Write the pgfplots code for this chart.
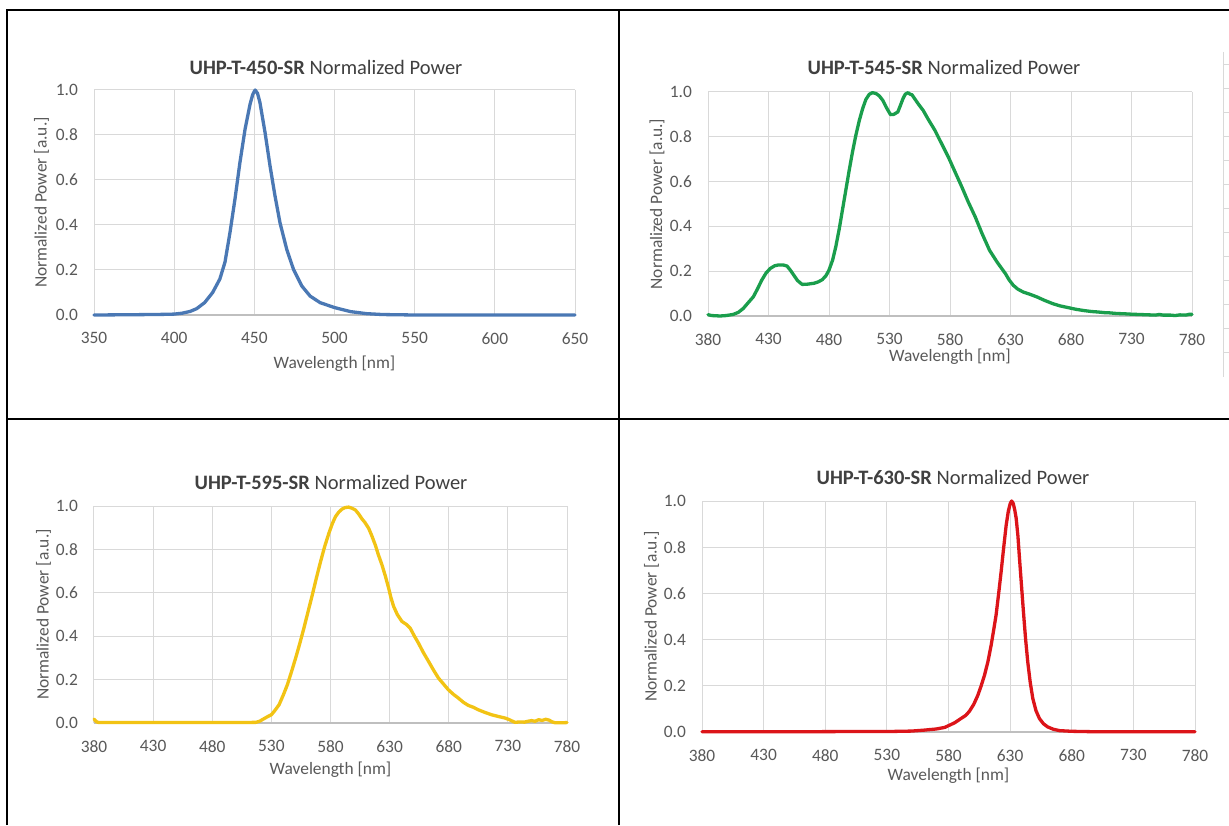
\documentclass[border=0pt]{standalone}
\usepackage{pgfplots}
\pgfplotsset{compat=1.18}
\usepackage{fontspec}
\setmainfont{Carlito}
\definecolor{tickgray}{HTML}{595959}
\definecolor{titlegray}{HTML}{404040}
\definecolor{gridgray}{HTML}{D9D9D9}
\definecolor{axisgray}{HTML}{BFBFBF}
\definecolor{cblue}{HTML}{4A78B4}
\definecolor{cgreen}{HTML}{1A9E4C}
\definecolor{cyellow}{HTML}{F2C314}
\definecolor{cred}{HTML}{DC1419}

\pgfplotstableread{
x y
350 0
370 0.001
385 0.002
395 0.003
400 0.004
405 0.008
410 0.016
414 0.028
419 0.055
424 0.10
428.5 0.16
431.7 0.235
434.8 0.366
437.9 0.514
441 0.677
444.2 0.825
447.3 0.936
449 0.98
450.5 1.0
452 0.985
453.5 0.944
456.7 0.81
459.8 0.662
462.9 0.529
466 0.41
470.2 0.292
474.4 0.203
479.6 0.129
484.8 0.084
491 0.055
500 0.033
510 0.015
520 0.006
530 0.002
540 0.001
550 0
650 0
}\bluedata

\pgfplotstableread{
x y
380 0.006
383 0.002
390 0.0
395 0.002
400.8 0.007
405 0.016
409.2 0.034
413 0.058
417.5 0.086
421 0.122
424.4 0.16
428 0.192
431.4 0.212
435 0.224
438.3 0.228
442 0.228
445.3 0.223
448 0.205
450.8 0.183
454 0.158
457.8 0.141
462 0.142
467.5 0.146
471 0.152
474.4 0.162
477.5 0.18
480 0.205
483 0.25
485.6 0.309
488.5 0.39
491.1 0.473
494 0.565
496.7 0.651
499.5 0.735
502.2 0.807
505 0.872
507.8 0.926
510.5 0.967
513.3 0.99
516 0.997
518.9 0.993
521.5 0.983
524.4 0.963
527.5 0.93
530.8 0.899
533.5 0.9
536.9 0.911
539 0.94
541.1 0.97
543 0.99
545.3 0.997
547 0.99
548.5 0.988
550.8 0.97
554 0.945
557.8 0.918
562 0.878
567.5 0.829
573 0.77
578.6 0.71
584 0.645
589.7 0.577
595 0.51
600.8 0.443
606.4 0.369
612.7 0.293
619 0.24
625.8 0.189
629 0.16
632.3 0.137
636 0.12
640.5 0.107
646 0.097
651.9 0.085
658 0.07
665 0.055
671 0.045
678 0.037
684 0.03
691 0.024
697 0.02
702 0.018
707.5 0.015
712 0.014
718 0.011
723.8 0.010
730 0.008
735 0.007
740 0.006
745 0.005
750 0.004
753 0.007
756 0.004
762 0.004
766 0.002
770 0.005
775 0.004
778 0.008
780 0.007
}\greendata

\pgfplotstableread{
x y
380 0.018
382 0.006
384 0.002
390 0.002
500 0.002
516.8 0.003
520 0.008
523.8 0.02
527 0.03
530 0.038
533 0.058
536.5 0.084
540 0.128
543.5 0.176
547 0.236
550.5 0.299
554 0.366
557.5 0.437
561 0.513
564.6 0.59
568 0.667
571.6 0.744
575 0.812
578.6 0.874
581.5 0.918
584.2 0.951
587 0.972
589.8 0.986
592.5 0.993
595.4 0.995
598 0.99
601 0.982
604 0.962
606.7 0.94
609 0.925
612.3 0.897
615 0.862
617.9 0.82
620.5 0.775
623.5 0.729
626.5 0.675
629.2 0.621
631 0.58
633.4 0.537
636.5 0.5
640.4 0.468
644 0.455
647.4 0.437
651 0.4
654.4 0.368
658.5 0.325
662.9 0.284
667 0.245
671.3 0.207
675.5 0.18
679.7 0.153
684 0.132
688.1 0.115
692.5 0.095
696.6 0.081
701 0.072
705 0.061
710 0.05
716.2 0.038
722 0.03
727.5 0.023
731 0.016
734 0.008
736 0.003
740 0.005
744 0.004
747 0.008
750 0.011
753 0.008
756 0.015
759 0.012
762 0.017
765 0.013
767 0.006
770 0.001
775 0.001
780 0.002
}\yellowdata

\pgfplotstableread{
x y
380 0.001
450 0.001
500 0.002
530 0.002
550 0.004
560 0.008
570 0.013
577 0.02
581 0.03
585 0.04
590 0.058
594 0.072
597 0.09
600.5 0.12
603.8 0.159
606.5 0.2
609.2 0.246
612 0.305
614.6 0.376
616.6 0.44
618.6 0.506
620.7 0.6
622.7 0.694
624.8 0.8
626.8 0.896
628.5 0.955
630 0.988
631.2 1.0
632.5 0.99
633.8 0.96
634.9 0.925
636.3 0.85
637.6 0.751
639.2 0.635
640.8 0.52
642.5 0.405
644.3 0.303
646.3 0.215
648.4 0.145
651 0.092
653.8 0.058
657 0.036
660.5 0.022
665 0.012
670 0.006
680 0.003
700 0.001
780 0.001
}\reddata

\pgfplotsset{
  spec/.style={
    scale only axis,
    anchor=south west,
    clip=false,
    ymin=0, ymax=1,
    ytick={0,0.2,...,1},
    axis line style={draw=none},
    major tick length=0pt,
    grid=major,
    major grid style={gridgray, line width=0.5pt},
    /pgf/number format/assume math mode=true,
    tick label style={font=\fontsize{8.7}{10}\selectfont, text=tickgray},
    yticklabel style={/pgf/number format/fixed, /pgf/number format/fixed zerofill, /pgf/number format/precision=1},
    xticklabel style={/pgf/number format/fixed, /pgf/number format/1000 sep={}},
    xticklabel shift=5.3pt,
    yticklabel shift=4.5pt,
    label style={font=\fontsize{8.7}{10}\selectfont, text=tickgray},
    title style={font=\fontsize{10.25}{12}\selectfont, text=titlegray, anchor=center},
    xlabel={Wavelength [nm]},
    ylabel={Normalized Power [a.u.]},
  },
  curve/.style={line width=1.65pt, line join=round, line cap=round},
}

\begin{document}
\begin{tikzpicture}
\path[use as bounding box] (0,0) rectangle (614.5pt,412.5pt);
\fill[white] (0,0) rectangle (614.5pt,412.5pt);

% faint remnant axis at right of top-right panel
\draw[gridgray, line width=0.5pt] (611.5pt,386.5pt) -- (611.5pt,224pt);
\foreach \yy in {380,368,356,344,332,320,308,296,284,272,260,248,236} {
  \draw[gridgray, line width=0.5pt] (611.5pt,\yy pt) -- (614.5pt,\yy pt);
}

% ---------- top-left ----------
\begin{axis}[spec,
  at={(47pt,255pt)}, width=240.5pt, height=112.5pt,
  xmin=350, xmax=650, xtick={350,400,...,650},
  title={\textbf{UHP-T-450-SR} Normalized Power},
  title style={at={(axis description cs:0.5,1)}, xshift=-4.25pt, yshift=5.5pt},
  xlabel style={at={(axis description cs:0.5,0)}, anchor=center, yshift=-24.5pt},
  ylabel style={at={([xshift=-26.25pt]axis description cs:0,0.5)}, anchor=center},
]
\draw[axisgray, line width=0.75pt] (rel axis cs:0,0) -- (rel axis cs:1,0);
\addplot[curve, cblue] table[x=x,y=y] {\bluedata};
\end{axis}

% ---------- top-right ----------
\begin{axis}[spec,
  at={(354pt,254.5pt)}, width=242pt, height=112pt,
  xmin=380, xmax=780, xtick={380,430,...,780},
  title={\textbf{UHP-T-545-SR} Normalized Power},
  title style={at={(axis description cs:0.5,1)}, xshift=-3pt, yshift=6.5pt},
  xlabel style={at={(axis description cs:0.5,0)}, anchor=center, yshift=-20.5pt},
  ylabel style={at={([xshift=-25.5pt]axis description cs:0,0.5)}, anchor=center},
]
\draw[axisgray, line width=0.75pt] (rel axis cs:0,0) -- (rel axis cs:1,0);
\addplot[curve, cgreen] table[x=x,y=y] {\greendata};
\end{axis}

% ---------- bottom-left ----------
\begin{axis}[spec,
  at={(47pt,51pt)}, width=236.5pt, height=108.5pt,
  xmin=380, xmax=780, xtick={380,430,...,780},
  title={\textbf{UHP-T-595-SR} Normalized Power},
  title style={at={(axis description cs:0.5,1)}, xshift=0.25pt, yshift=6pt},
  xlabel style={at={(axis description cs:0.5,0)}, anchor=center, yshift=-23.5pt},
  ylabel style={at={([xshift=-25.25pt]axis description cs:0,0.5)}, anchor=center},
]
\draw[axisgray, line width=0.75pt] (rel axis cs:0,0) -- (rel axis cs:1,0);
\addplot[curve, cyellow] table[x=x,y=y] {\yellowdata};
\end{axis}

% ---------- bottom-right ----------
\begin{axis}[spec,
  at={(351pt,46.5pt)}, width=246.5pt, height=115.5pt,
  xmin=380, xmax=780, xtick={380,430,...,780},
  title={\textbf{UHP-T-630-SR} Normalized Power},
  title style={at={(axis description cs:0.5,1)}, xshift=2.25pt, yshift=6pt},
  xlabel style={at={(axis description cs:0.5,0)}, anchor=center, yshift=-22pt},
  ylabel style={at={([xshift=-25.25pt]axis description cs:0,0.5)}, anchor=center},
]
\draw[axisgray, line width=0.75pt] (rel axis cs:0,0) -- (rel axis cs:1,0);
\addplot[curve, cred] table[x=x,y=y] {\reddata};
\end{axis}

% ---------- frame ----------
\draw[black, line width=1pt] (3.5pt,0pt) -- (3.5pt,407.5pt) -- (614.5pt,407.5pt);
\draw[black, line width=1pt] (309.5pt,0pt) -- (309.5pt,407.5pt);
\draw[black, line width=1pt] (3.5pt,203pt) -- (614.5pt,203pt);
\end{tikzpicture}
\end{document}
